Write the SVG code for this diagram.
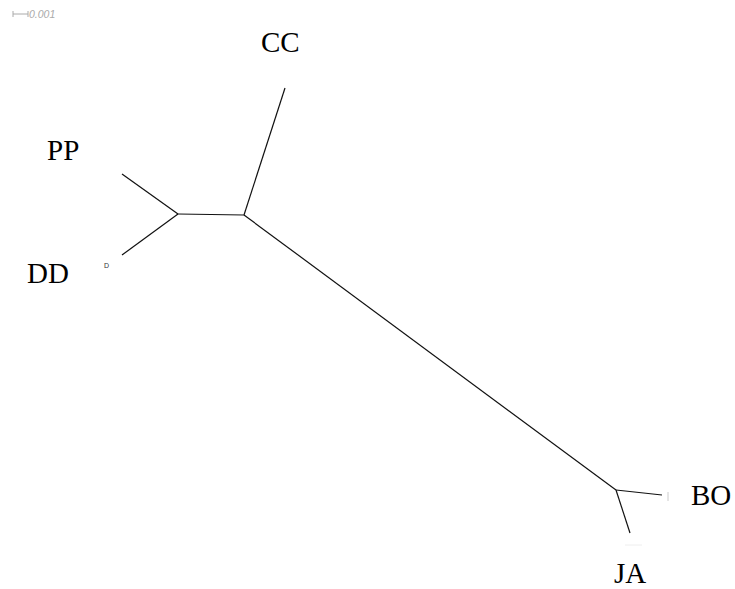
<svg xmlns="http://www.w3.org/2000/svg" width="735" height="589" viewBox="0 0 735 589">
<style>
.lbl{font-family:"Liberation Serif","Times New Roman",serif;font-size:29px;fill:#000}
.br{stroke:#111;stroke-width:1.2;fill:none}
.sc{font-family:"Liberation Sans",Arial,sans-serif;font-size:10.5px;font-style:italic;fill:#aaa}
</style>
<rect width="735" height="589" fill="#fff"/>
<g id="scale">
<path d="M13 14H28M13 11V17M28 11V17" stroke="#aaa" stroke-width="1" fill="none"/>
<text class="sc" x="29" y="18">0.001</text>
</g>
<g id="connectors">
<path class="br" d="M178 214L122 174"/>
<path class="br" d="M178 214L122 255"/>
<path class="br" d="M178 214L244 215"/>
<path class="br" d="M244 215L285 88"/>
<path class="br" d="M244 215L616 490"/>
<path class="br" d="M616 490L662 495"/>
<path class="br" d="M616 490L630 533"/>
</g>
<g id="CC"><text class="lbl" x="261" y="52">CC</text></g>
<g id="PP"><text class="lbl" x="47" y="160">PP</text></g>
<g id="DD"><text class="lbl" x="27" y="283">DD</text><text x="104" y="268" font-family="Liberation Sans,sans-serif" font-size="7" fill="#333">D</text></g>
<g id="BO"><text class="lbl" x="691" y="505">BO</text><path d="M668 492V501" stroke="#ccc" stroke-width="1"/></g>
<g id="JA"><text class="lbl" x="614" y="583">JA</text><path d="M625 545H642" stroke="#eee" stroke-width="1"/></g>
</svg>
